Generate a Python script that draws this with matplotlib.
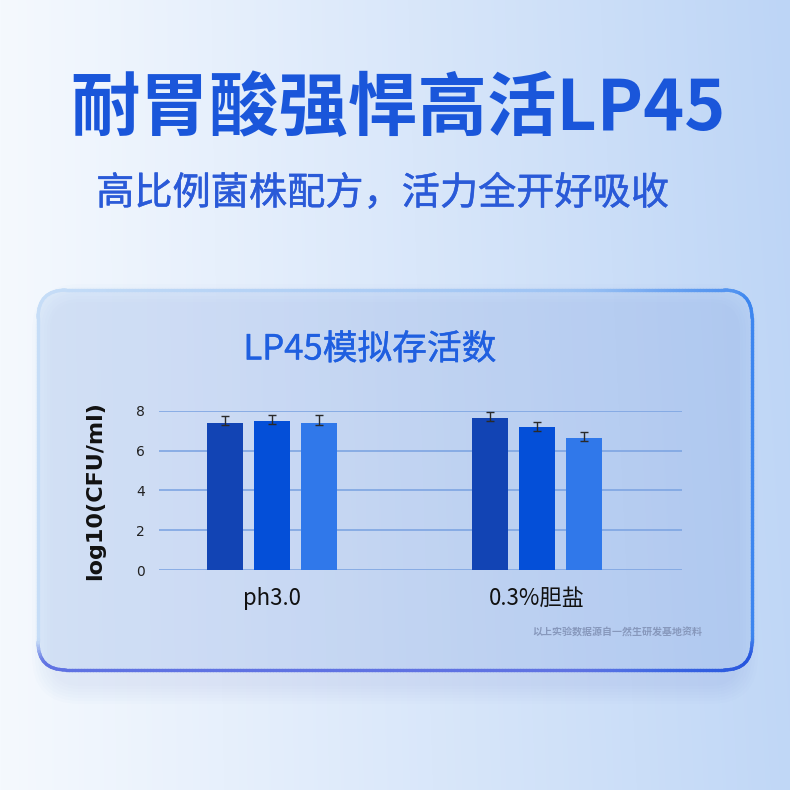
import numpy as np
import matplotlib
matplotlib.use("Agg")
import matplotlib.pyplot as plt
from matplotlib.patches import FancyBboxPatch
from matplotlib.collections import LineCollection
from matplotlib.colors import to_rgb
import matplotlib.patheffects as pe

plt.rcParams['font.family'] = ['Noto Sans CJK SC', 'DejaVu Sans']

# ---------------- data ----------------
categories = ["ph3.0", "0.3%胆盐"]
series_1 = [7.40, 7.62]
series_2 = [7.48, 7.20]
series_3 = [7.40, 6.63]
err_low_1 = [0.12, 0.12]
err_high_1 = [0.33, 0.33]
err_low_2 = [0.15, 0.22]
err_high_2 = [0.30, 0.25]
err_low_3 = [0.10, 0.13]
err_high_3 = [0.37, 0.32]
y_ticks = [0, 2, 4, 6, 8]

title_main = "耐胃酸强悍高活LP45"
title_sub = "高比例菌株配方，活力全开好吸收"
chart_title = "LP45模拟存活数"
y_label = "log10(CFU/ml)"
footnote = "以上实验数据源自一然生研发基地资料"

W = H = 790
fig = plt.figure(figsize=(7.9, 7.9), dpi=100)

# ---------------- background ----------------
bg = fig.add_axes([0, 0, 1, 1])
bg.set_xlim(0, W)
bg.set_ylim(H, 0)
bg.axis('off')

xx = np.linspace(0, 1, W)[None, :, None]
yy = np.linspace(0, 1, H)[:, None, None]
c_left = np.array(to_rgb('#f5f9fe'))
c_right = np.array(to_rgb('#bdd5f6'))
t = np.clip(xx ** 1.05 * (1.0 - 0.06 * yy), 0, 1)
img = c_left * (1 - t) + c_right * t
bg.imshow(img, extent=(0, W, H, 0), aspect='auto', zorder=0)

# shadow glow below card
cx0, cy0, cw, ch, rr = 38, 290, 714, 380, 28
for k in range(7):
    grow = 2 + k * 3
    sh = FancyBboxPatch((cx0 + 14 - grow, cy0 + 14 - grow), cw - 28 + 2 * grow, ch + 2 * grow,
                        boxstyle=f"round,pad=0,rounding_size={rr + grow}",
                        facecolor='#3f6fe0', edgecolor='none', alpha=0.012, zorder=1)
    bg.add_patch(sh)

card = FancyBboxPatch((cx0, cy0), cw, ch, boxstyle=f"round,pad=0,rounding_size={rr}",
                      facecolor='#a2c4f1', edgecolor='none', alpha=0.24, zorder=2)
bg.add_patch(card)

# gradient border
path = card.get_path()
polys = path.to_polygons(closed_only=False)
pts = np.vstack(polys)
dense = []
for i in range(len(pts) - 1):
    a, b = pts[i], pts[i + 1]
    n = max(2, int(np.hypot(*(b - a)) / 3))
    dense.append(np.linspace(a, b, n, endpoint=False))
dense = np.vstack(dense + [pts[-1:]])
segs = np.stack([dense[:-1], dense[1:]], axis=1)
mid = segs.mean(axis=1)

def smooth(v):
    v = np.clip(v, 0, 1)
    return v * v * (3 - 2 * v)

w_right = smooth((mid[:, 0] - 560) / 185) * 0.75 + smooth((mid[:, 0] - 735) / 15) * 0.25
w_bot = smooth((mid[:, 1] - 635) / 30)
light_l = np.array(to_rgb('#c6ddf7'))
light_r = np.array(to_rgb('#8fbaf2'))
blue_r = np.array(to_rgb('#3d86ef'))
blue_b = np.array(to_rgb('#5f72e2'))
corner = np.array(to_rgb('#2150dc'))
cols = []
for (mx, my), wr, wb in zip(mid, w_right, w_bot):
    fx = np.clip((mx - cx0) / cw, 0, 1)
    light = light_l * (1 - fx) + light_r * fx
    w = max(wr, wb)
    tgt = (blue_r * wr + blue_b * wb) / (wr + wb + 1e-9)
    k = wr * wb
    tgt = tgt * (1 - k) + corner * k
    cols.append(light * (1 - w) + tgt * w)
lc = LineCollection(segs, colors=cols, linewidths=2.4, zorder=3, capstyle='round')
bg.add_collection(lc)

# ---------------- texts ----------------
bg.text(398, 110, title_main, ha='center', va='center', fontsize=50, fontweight='bold',
        color='#1a56da', zorder=5)
bg.text(383, 194, title_sub, ha='center', va='center', fontsize=27.5, fontweight='normal',
        color='#2a5ad8', zorder=5,
        path_effects=[pe.withStroke(linewidth=0.35, foreground='#2a5ad8')])
bg.text(370, 350, chart_title, ha='center', va='center', fontsize=25, fontweight='normal',
        color='#1f5fe0', zorder=5,
        path_effects=[pe.withStroke(linewidth=0.3, foreground='#1f5fe0')])
bg.text(95, 491, y_label, ha='center', va='center', rotation=90, fontsize=16,
        fontweight='bold', color='#111111', family='DejaVu Sans', zorder=5)
bg.text(617, 632, footnote, ha='center', va='center', fontsize=7.2, fontweight='bold',
        color='#8798bc', zorder=5)

# ---------------- chart ----------------
ax = fig.add_axes([159 / W, 1 - 570.3 / H, (682 - 159) / W, 159.6 / H])
ax.patch.set_alpha(0)
x = np.arange(len(categories))
bw = 0.136
off = 0.1764
colors = ['#1244b4', '#044fd8', '#3078ea']
series = [series_1, series_2, series_3]
errs = [(err_low_1, err_high_1), (err_low_2, err_high_2), (err_low_3, err_high_3)]
for i, (vals, (lo, hi), c) in enumerate(zip(series, errs, colors)):
    pos = x + (i - 1) * off
    ax.bar(pos, vals, width=bw, color=c, zorder=3)
    ax.errorbar(pos, vals, yerr=[lo, hi], fmt='none', ecolor='#2a2a2a', elinewidth=1.0,
                capsize=3, capthick=1.0, zorder=4, clip_on=False)

ax.set_xlim((159 - 272) / 265, (682 - 272) / 265)
ax.set_ylim(0, 8)
ax.set_yticks(y_ticks)
ax.set_yticklabels([str(v) for v in y_ticks], fontsize=10, color='#222222', family='DejaVu Sans')
ax.set_xticks(x)
ax.set_xticklabels(categories, fontsize=16, color='#111111')
ax.tick_params(axis='both', length=0)
ax.tick_params(axis='y', pad=10)
ax.tick_params(axis='x', pad=12)
ax.grid(axis='y', color='#7ea5e2', linewidth=1.2, zorder=1)
ax.set_axisbelow(True)
for s in ax.spines.values():
    s.set_visible(False)

fig.savefig('out.png', dpi=100)
